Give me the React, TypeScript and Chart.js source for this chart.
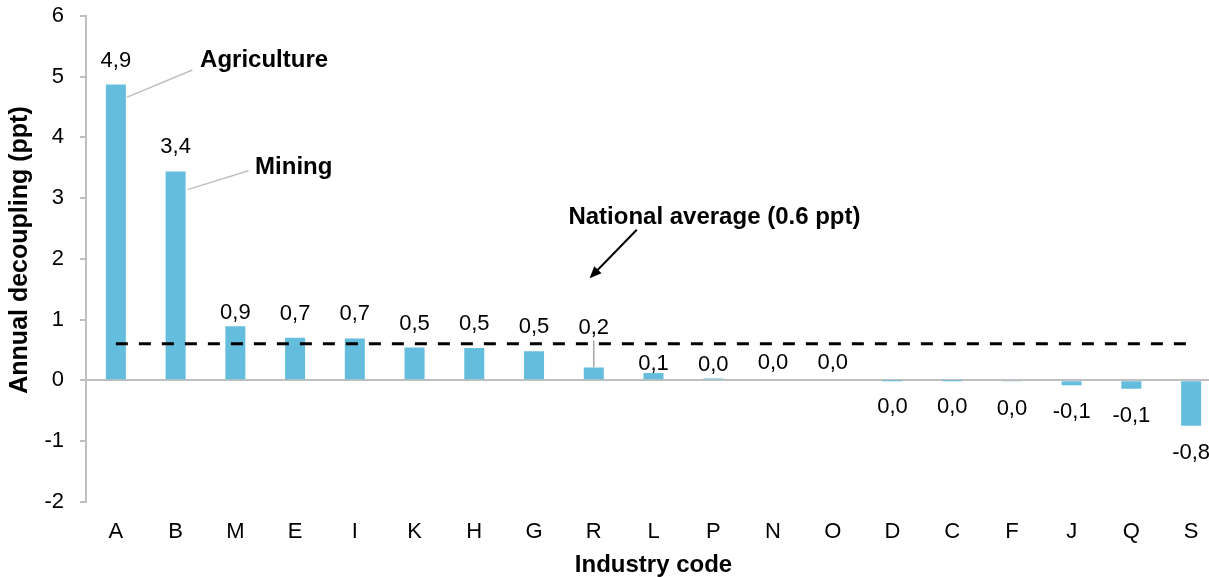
import React, { useEffect, useRef } from "react";
import { Chart, registerables } from "chart.js";

Chart.register(...registerables);

const categories = ["A", "B", "M", "E", "I", "K", "H", "G", "R", "L", "P", "N", "O", "D", "C", "F", "J", "Q", "S"];
const decoupling = [4.87, 3.44, 0.89, 0.7, 0.69, 0.54, 0.53, 0.48, 0.21, 0.12, 0.03, 0.0, 0.0, -0.001, -0.001, -0.02, -0.08, -0.14, -0.75];
const nationalAverage = 0.6;
const yTicks = [-2, -1, 0, 1, 2, 3, 4, 5, 6];

const FONT = "'Liberation Sans', Arial, sans-serif";
const BAR_COLOR = "#64BDDD";
const AXIS_COLOR = "#BFBFBF";

// label gap overrides (pixels between bar end and label centre)
const labelGapOverride: Record<string, number> = { M: 13, L: 9, P: 14, N: 17, O: 17, R: 40 };

function fmt(v: number) {
  let s = v.toFixed(1).replace(".", ",");
  if (s === "-0,0") s = "0,0";
  return s;
}

const annotationPlugin = {
  id: "annotations",
  afterDatasetsDraw(chart: any) {
    const ctx = chart.ctx;
    const meta = chart.getDatasetMeta(0);
    const xs = chart.scales.x;
    const ys = chart.scales.y;
    ctx.save();
    // data labels
    ctx.font = `22px ${FONT}`;
    ctx.fillStyle = "#000";
    ctx.textAlign = "center";
    ctx.textBaseline = "middle";
    meta.data.forEach((bar: any, i: number) => {
      const v = decoupling[i];
      const cat = categories[i];
      let y: number;
      if (v >= 0) {
        const gap = labelGapOverride[cat] ?? 24;
        y = bar.y - gap;
      } else {
        y = bar.y + 27;
      }
      ctx.fillText(fmt(v), bar.x, y);
      if (cat === "R") {
        ctx.strokeStyle = "#A6A6A6";
        ctx.lineWidth = 1.5;
        ctx.beginPath();
        ctx.moveTo(bar.x, y + 13);
        ctx.lineTo(bar.x, bar.y);
        ctx.stroke();
      }
    });

    const px = (i: number) => xs.getPixelForValue(i);
    const py = (v: number) => ys.getPixelForValue(v);

    // leader lines
    ctx.strokeStyle = AXIS_COLOR;
    ctx.lineWidth = 1.5;
    ctx.beginPath();
    ctx.moveTo(px(0.18), py(4.66));
    ctx.lineTo(px(1.28), py(5.11));
    ctx.moveTo(px(1.2), py(3.14));
    ctx.lineTo(px(2.22), py(3.45));
    ctx.stroke();

    ctx.font = `bold 24px ${FONT}`;
    ctx.fillStyle = "#000";
    ctx.textAlign = "left";
    ctx.fillText("Agriculture", px(1.41), py(5.27));
    ctx.fillText("Mining", px(2.33), py(3.51));
    ctx.textAlign = "center";
    ctx.fillText("National average (0.6 ppt)", px(10.02), py(2.69));

    // arrow
    const x1 = px(8.72), y1 = py(2.48), x2 = px(7.93), y2 = py(1.68);
    ctx.strokeStyle = "#000";
    ctx.lineWidth = 2;
    const ang = Math.atan2(y2 - y1, x2 - x1);
    const headLen = 13;
    ctx.beginPath();
    ctx.moveTo(x1, y1);
    ctx.lineTo(x2 - Math.cos(ang) * headLen * 0.7, y2 - Math.sin(ang) * headLen * 0.7);
    ctx.stroke();
    ctx.fillStyle = "#000";
    ctx.beginPath();
    ctx.moveTo(x2, y2);
    ctx.lineTo(x2 - headLen * Math.cos(ang - 0.4), y2 - headLen * Math.sin(ang - 0.4));
    ctx.lineTo(x2 - headLen * Math.cos(ang + 0.4), y2 - headLen * Math.sin(ang + 0.4));
    ctx.closePath();
    ctx.fill();

    // y axis title
    ctx.save();
    ctx.translate(20, 250);
    ctx.rotate(-Math.PI / 2);
    ctx.font = `bold 25px ${FONT}`;
    ctx.textAlign = "center";
    ctx.textBaseline = "middle";
    ctx.fillText("Annual decoupling (ppt)", 0, 0);
    ctx.restore();

    ctx.restore();
  },
};

export default function App() {
  const ref = useRef<HTMLCanvasElement | null>(null);
  useEffect(() => {
    if (!ref.current) return;
    const chart = new Chart(ref.current, {
      type: "bar",
      data: {
        labels: categories,
        datasets: [
          {
            type: "bar",
            data: decoupling,
            backgroundColor: BAR_COLOR,
            categoryPercentage: 1,
            barPercentage: 0.335,
            order: 2,
          } as any,
          {
            type: "line",
            data: categories.map(() => nationalAverage),
            borderColor: "#000",
            borderWidth: 3,
            borderDash: [12, 11],
            pointRadius: 0,
            fill: false,
            order: 1,
          } as any,
        ],
      },
      options: {
        animation: false,
        responsive: true,
        maintainAspectRatio: false,
        layout: { padding: { top: 16, left: 0, right: 0, bottom: 0 } },
        plugins: { legend: { display: false }, tooltip: { enabled: false } },
        scales: {
          x: {
            offset: true,
            grid: { display: false, drawTicks: false, tickLength: 0 },
            border: { display: false },
            ticks: { color: "#000", font: { family: FONT, size: 22 }, padding: 17 },
            title: {
              display: true,
              text: "Industry code",
              color: "#000",
              font: { family: FONT, size: 24, weight: "bold", lineHeight: 1 },
              padding: { top: 0, bottom: 0 },
            },
            afterFit: (s: any) => {
              s.height = 75.3;
              s.paddingLeft = 0;
              s.paddingRight = 0;
            },
          },
          y: {
            min: -2,
            max: 6,
            afterBuildTicks: (s: any) => {
              s.ticks = yTicks.map((v) => ({ value: v }));
            },
            grid: {
              color: (c: any) => (c.tick && c.tick.value === 0 ? AXIS_COLOR : "rgba(0,0,0,0)"),
              lineWidth: 2,
              tickColor: AXIS_COLOR,
              tickLength: 6,
            },
            border: { color: AXIS_COLOR, width: 2 },
            ticks: { color: "#000", font: { family: FONT, size: 22 }, padding: 16 },
            title: { display: false },
            afterFit: (s: any) => {
              s.width = 86;
              s.paddingTop = 0;
              s.paddingBottom = 0;
            },
          },
        },
      },
      plugins: [annotationPlugin],
    });
    return () => chart.destroy();
  }, []);
  return (
    <div style={{ position: "fixed", left: 0, top: 0, width: 1209, height: 577, overflow: "hidden", background: "#fff" }}>
      <div style={{ position: "relative", width: 1221, height: 577 }}>
        <canvas ref={ref} />
      </div>
    </div>
  );
}
